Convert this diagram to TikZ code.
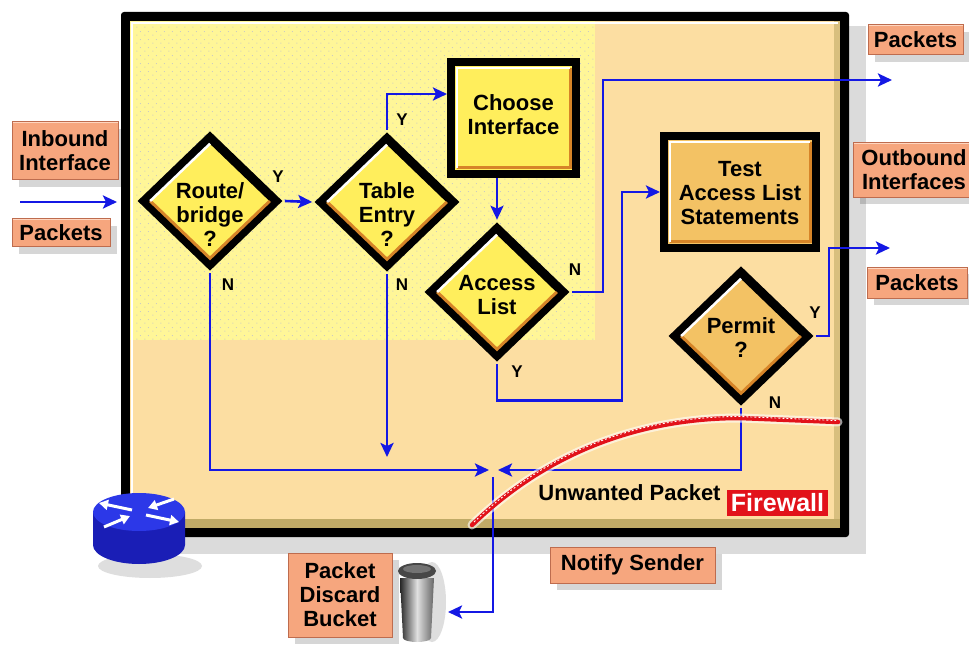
\documentclass[tikz,border=0pt]{standalone}
\usepackage{fontspec}
\setmainfont{Liberation Sans}
\usetikzlibrary{shapes.geometric,arrows.meta,calc,shadows,patterns.meta}

\definecolor{flowblue}{RGB}{20,24,228}
\definecolor{paleyellow}{RGB}{255,246,152}
\definecolor{peach}{RGB}{252,222,162}
\definecolor{boxyellow}{RGB}{255,238,92}
\definecolor{boxorange}{RGB}{243,194,100}
\definecolor{bevelorange}{RGB}{214,132,40}
\definecolor{salmon}{RGB}{246,166,126}
\definecolor{salmonlight}{RGB}{255,214,192}
\definecolor{salmondark}{RGB}{190,108,78}
\definecolor{wallred}{RGB}{226,18,26}
\definecolor{routertop}{RGB}{44,56,232}
\definecolor{routerside}{RGB}{26,30,182}
\definecolor{framebevel}{RGB}{192,170,102}

\tikzdeclarepattern{
  name=speckle, type=uncolored,
  bottom left={(0pt,0pt)}, top right={(8pt,8pt)}, tile size={(8pt,8pt)},
  code={\fill (1pt,1pt) circle (0.6pt); \fill (5pt,5pt) circle (0.6pt);}
}

\tikzset{
  flow/.style={draw=flowblue, line width=2.6pt, -{Stealth[length=14pt,width=13pt,inset=3pt]}},
  decision/.style={diamond, draw=black, line width=9pt, fill=#1, aspect=1,
    minimum width=137pt, minimum height=132pt, inner sep=0pt, outer sep=6.3pt},
  stepbox/.style={rectangle, draw=black, line width=8pt, fill=#1, inner sep=0pt, outer sep=4pt},
  caption/.style={font=\bfseries\fontsize{22}{24}\selectfont, align=center},
  yn/.style={font=\bfseries\fontsize{17}{17}\selectfont},
  tag/.style={rectangle, fill=salmon, draw=salmondark, line width=1pt, caption, inner sep=0pt,
    drop shadow={shadow xshift=7pt, shadow yshift=-7pt, fill=black, opacity=0.16},
    path picture={\draw[salmonlight, line width=2.5pt]
      (path picture bounding box.south west) -- (path picture bounding box.north west)
      -- (path picture bounding box.north east);}},
  hilite/.style={draw=white, line width=2.5pt},
  lowedge/.style={draw=bevelorange, line width=3pt},
}

\begin{document}
\begin{tikzpicture}[x=1pt,y=-1pt]
\useasboundingbox (0,0) rectangle (969,652);
\fill[white] (0,0) rectangle (969,652);

% panel with its shadow and bevel
\fill[black, opacity=0.14] (134,26) rectangle (866,554);
\fill[black, rounded corners=3pt] (121,12) rectangle (849,537);
\fill[peach] (130,21) rectangle (840,528);
\fill[paleyellow] (130,21) rectangle (595,340);
\fill[pattern=speckle, pattern color=black!22] (130,21) rectangle (595,340);
\fill[framebevel!60!peach] (834,21) rectangle (840,528);
\fill[framebevel] (130,519) rectangle (840,528);
\draw[white, line width=1.5pt] (132,526) -- (132,23) -- (838,23);

% decisions
\node[decision=boxyellow] (route) at (210,201) {};
\node[decision=boxyellow] (table) at (387,202) {};
\node[decision=boxyellow] (access) at (497,292) {};
\node[decision=boxorange] (permit) at (741,336) {};
\foreach \d in {route,table,access,permit}{
  \draw[lowedge] ($(\d.east)+(-15,0)$) -- ($(\d.south)+(0,-15)$) -- ($(\d.west)+(15,0)$);
  \draw[hilite] ($(\d.west)+(15,0)$) -- ($(\d.north)+(0,15)$);
}

% process steps
\node[stepbox=boxyellow, minimum width=125pt, minimum height=112pt] (choose) at (513.5,118) {};
\node[stepbox=boxorange, minimum width=152pt, minimum height=112pt] (test) at (740,192) {};
\foreach \b in {choose,test}{
  \draw[lowedge] ($(\b.north east)+(-10,10)$) -- ($(\b.south east)+(-10,-10)$) -- ($(\b.south west)+(10,-10)$);
  \draw[hilite] ($(\b.south west)+(10,-10)$) -- ($(\b.north west)+(10,10)$) -- ($(\b.north east)+(-10,10)$);
}

% texts inside the shapes
\node[caption] (route-t) at (210,215) {Route/\\bridge\\?};
\node[caption] (table-t) at (387,215) {Table\\Entry\\?};
\node[caption] (access-t) at (497,295) {Access\\List};
\node[caption] (permit-t) at (741,338) {Permit\\?};
\node[caption] (choose-t) at (513.5,115) {Choose\\Interface};
\node[caption] (test-t) at (740,193) {Test\\Access List\\Statements};

% free ends of the flow lines
\coordinate (in-a) at (20,202);
\coordinate (in-b) at (117,202);
\coordinate (out-a) at (892,80);
\coordinate (out-b) at (890,248);
\coordinate (drop-l) at (489,470);
\coordinate (drop-r) at (498,470);
\coordinate (drop-d) at (493,477);
\coordinate (table-stop) at (387,457);
\coordinate (bin) at (448,612);

% flow lines
\draw[flow] (in-a) -- (in-b);
\draw[flow] (route.east) -- (table.west);
\draw[flow] (table.north) |- ([yshift=24pt]choose.west);
\draw[flow] (choose.south -| access.north) -- (access.north);
\draw[flow] (access.east) -- ++(31,0) |- (out-a);
\draw[flow] (access.south) -- ++(0,36) -| ([xshift=-38pt]test.west) -- (test.west);
\draw[flow] (permit.east) -- ++(13,0) |- (out-b);
\draw[flow] (route.south) |- (drop-l);
\draw[flow] (table.south) -- (table-stop);
\draw[flow] (permit.south) |- (drop-r);
\draw[flow] (drop-d) |- (bin);

% yes / no marks
\node[yn] (route-y) at (278,177) {Y};
\node[yn] (route-n) at (228,285) {N};
\node[yn] (table-y) at (402,120) {Y};
\node[yn] (table-n) at (402,285) {N};
\node[yn] (access-n) at (575,270) {N};
\node[yn] (access-y) at (517,372) {Y};
\node[yn] (permit-y) at (815,313) {Y};
\node[yn] (permit-n) at (775,403) {N};

% firewall line
\draw[white, line width=9pt, opacity=0.6, line cap=round]
  (472,525) .. controls (560,440) and (660,418) .. (740,418) -- (838,422);
\draw[wallred, line width=4.5pt, line cap=round]
  (472,525) .. controls (560,440) and (660,418) .. (740,418) -- (838,422);
\draw[white, line width=0.9pt, dash pattern=on 2pt off 2pt]
  (474,522) .. controls (561,438) and (660,416.5) .. (740,416.5) -- (836,420.5);

\node[caption] (unwanted) at (629.5,493) {Unwanted Packet};
\node[fill=wallred, text=white, font=\bfseries\fontsize{25}{25}\selectfont,
  minimum width=101pt, minimum height=26pt, inner sep=0pt] (firewall) at (777.5,502.5) {Firewall};

% outside labels
\node[tag, minimum width=106pt, minimum height=58pt] (inbound) at (65,151) {Inbound\\Interface};
\node[tag, minimum width=98pt, minimum height=28pt] (pkt-in) at (61,233) {Packets};
\node[tag, minimum width=95pt, minimum height=30pt] (pkt-out-a) at (915.5,40) {Packets};
\node[tag, minimum width=122pt, minimum height=55pt] (outbound) at (914,170) {Outbound\\Interfaces};
\node[tag, minimum width=100pt, minimum height=31pt] (pkt-out-b) at (917,283) {Packets};
\node[tag, minimum width=165pt, minimum height=36pt] (notify) at (632.5,565) {Notify Sender};
\node[tag, minimum width=104pt, minimum height=84pt] (discard) at (340,595) {Packet\\Discard\\Bucket};

% router icon
\fill[black, opacity=0.13] (150,566) ellipse [x radius=52, y radius=12];
\fill[routerside] (93,512) -- (93,545) arc [start angle=180, end angle=360, x radius=46, y radius=-19] -- (185,512) -- cycle;
\fill[routertop] (139,512) ellipse [x radius=46, y radius=19];
\foreach \a/\b in {{132,510}/{99,503}, {174,499}/{148,508}, {146,515}/{179,522}, {104,527}/{130,516}}{
  \draw[white, line width=3pt, -{Triangle[length=9pt,width=10pt]}] (\a) -- (\b);
}

% discard bin
\fill[black, opacity=0.13] (432,602) ellipse [x radius=14, y radius=40];
\shade[left color=black!85, right color=black!60, middle color=black!12]
  (400,578) -- (434,578) -- (431,638) arc [start angle=0, end angle=-180, x radius=14, y radius=-4] -- cycle;
\fill[black!72] (417,571) ellipse [x radius=19, y radius=8];
\fill[black!55] (417,569) ellipse [x radius=14, y radius=4];
\end{tikzpicture}
\end{document}
